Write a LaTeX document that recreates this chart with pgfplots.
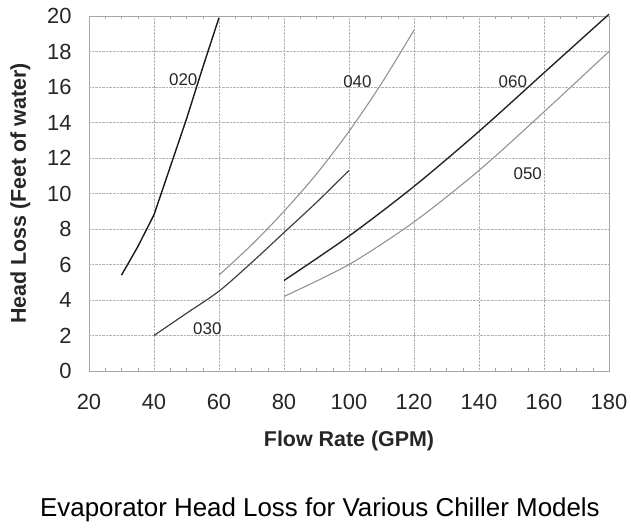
\documentclass[border=0pt]{standalone}
\usepackage{pgfplots}
\pgfplotsset{compat=1.18}
\usepackage{fontspec}
\setmainfont{Liberation Sans}
\begin{document}
\begin{tikzpicture}
\useasboundingbox (-89bp,-159bp) rectangle (542bp,371bp);
\begin{axis}[
  scale only axis,
  width=520bp, height=355bp,
  xmin=20, xmax=180, ymin=0, ymax=20,
  xtick={20,40,...,180}, ytick={0,2,...,20},
  minor x tick num=3,
  grid=major,
  major grid style={gray!60, densely dotted, line width=0.6pt},
  axis line style={gray!70, line width=0.8pt},
  tick style={gray!70},
  major tick length=0pt, minor tick length=3bp,
  tick align=inside,
  /pgf/number format/assume math mode=true,
  ticklabel style={font=\fontsize{22}{26}\selectfont, text=black!85},
  xticklabel style={yshift=-20bp},
  yticklabel style={xshift=-14bp},
  xlabel={\textbf{Flow Rate (GPM)}},
  ylabel={\textbf{Head Loss (Feet of water)}},
  label style={font=\fontsize{21.5}{25}\selectfont, text=black!85},
  xlabel style={yshift=-14bp},
  ylabel style={yshift=10bp},
  clip=false,
]
\addplot[black!90, line width=1.4pt] coordinates {(30,5.4) (35,7.0) (40,8.8) (45,11.5) (50,14.2) (55,17.1) (60,19.9)};
\addplot[gray!85, line width=1.1pt, smooth] coordinates {(60,5.4) (70,7.1) (80,9.0) (90,11.1) (100,13.5) (110,16.2) (120,19.2)};
\addplot[black!75, line width=1.2pt, smooth] coordinates {(40,2.0) (50,3.25) (60,4.5) (70,6.1) (80,7.8) (90,9.5) (100,11.3)};
\addplot[black!85, line width=1.4pt, smooth] coordinates {(80,5.1) (100,7.6) (120,10.4) (140,13.5) (160,16.8) (180,20.1)};
\addplot[gray!85, line width=1.1pt, smooth] coordinates {(80,4.2) (100,6.0) (120,8.4) (140,11.3) (160,14.6) (180,18.0)};
\node[font=\fontsize{17}{19}\selectfont, text=black!85] at (axis cs:49,16.4) {020};
\node[font=\fontsize{17}{19}\selectfont, text=black!85] at (axis cs:102.6,16.3) {040};
\node[font=\fontsize{17}{19}\selectfont, text=black!85] at (axis cs:150.4,16.3) {060};
\node[font=\fontsize{17}{19}\selectfont, text=black!85] at (axis cs:155,11.1) {050};
\node[font=\fontsize{17}{19}\selectfont, text=black!85] at (axis cs:56.4,2.4) {030};
\end{axis}
\node[font=\fontsize{26}{30}\selectfont] at (231bp,-139bp) {Evaporator Head Loss for Various Chiller Models};
\end{tikzpicture}
\end{document}
